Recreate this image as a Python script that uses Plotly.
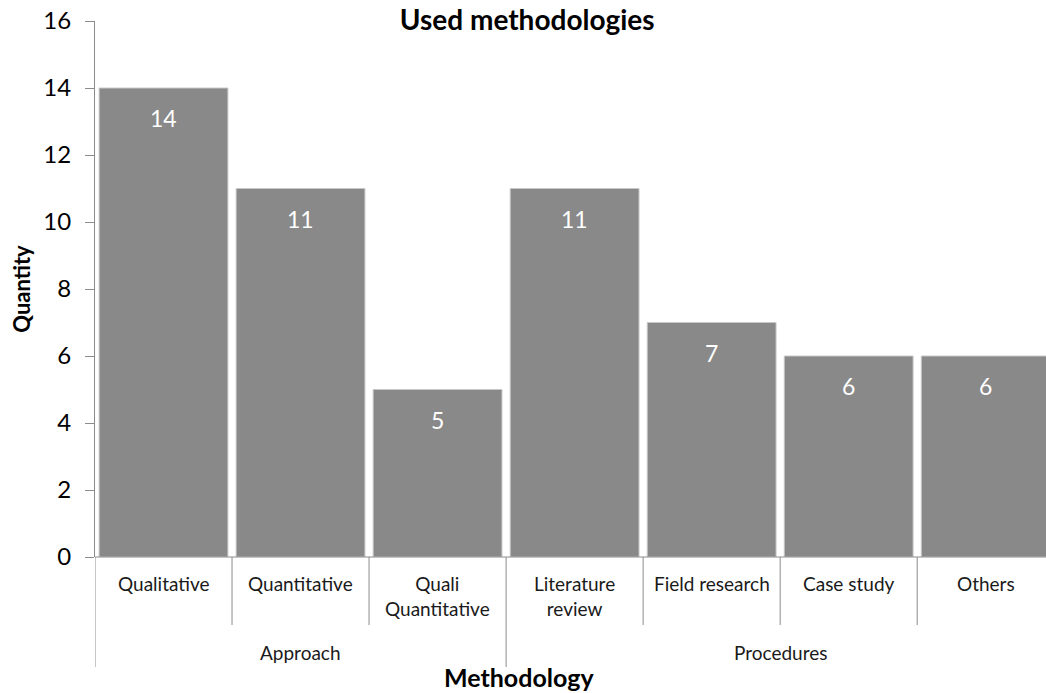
import plotly.graph_objects as go

# Methodology categories, grouped into two families
categories = ["Qualitative", "Quantitative", "Quali<br>Quantitative",
              "Literature<br>review", "Field research", "Case study", "Others"]
quantities = [14, 11, 5, 11, 7, 6, 6]
groups = ["Approach", "Procedures"]
group_sizes = [3, 4]
y_ticks = [0, 2, 4, 6, 8, 10, 12, 14, 16]

FONT = "Lato, 'Open Sans', sans-serif"
AXIS_GRAY = "#8c8c8c"
BAR_GRAY = "#898989"

x_idx = list(range(len(categories)))
# the last category runs slightly past the right edge of the figure
X_MIN, X_MAX = -0.5, 6.44

fig = go.Figure()
fig.add_trace(go.Bar(
    x=x_idx, y=quantities,
    marker=dict(color=BAR_GRAY, line=dict(color="#c8c8c8", width=1)),
    hoverinfo="skip",
))

annotations = []
# value labels inside the top of each bar
for i, v in enumerate(quantities):
    annotations.append(dict(
        x=i, y=v, xref="x", yref="y", text=str(v), showarrow=False,
        yanchor="top", yshift=-14,
        font=dict(family=FONT, size=23, color="white"),
    ))

# inner category labels
for i, c in enumerate(categories):
    annotations.append(dict(
        x=i, y=0, xref="x", yref="paper", text=c, showarrow=False,
        yanchor="top", yshift=-13, align="center",
        font=dict(family=FONT, size=19, color="#1a1a1a"),
    ))

shapes = []
# x axis baseline
shapes.append(dict(type="line", xref="x", yref="paper", x0=X_MIN, x1=X_MAX,
                   y0=0, y1=0, line=dict(color=AXIS_GRAY, width=1)))

# dividers between categories and group labels
start = 0
group_bounds = [-0.5]
for g, n in zip(groups, group_sizes):
    center = start + (n - 1) / 2
    annotations.append(dict(
        x=center, y=0, xref="x", yref="paper", text=g, showarrow=False,
        yanchor="top", yshift=-82,
        font=dict(family=FONT, size=19, color="#1a1a1a"),
    ))
    start += n
    group_bounds.append(start - 0.5)

for k in range(len(categories)):
    xb = k - 0.5
    if xb in group_bounds:
        continue
    shapes.append(dict(type="line", xref="x", yref="paper", x0=xb, x1=xb,
                       y0=0, y1=-68 / 536, line=dict(color=AXIS_GRAY, width=1)))
for xb in group_bounds[:-1]:
    shapes.append(dict(type="line", xref="x", yref="paper", x0=xb, x1=xb,
                       y0=0, y1=-110 / 536, line=dict(color=AXIS_GRAY, width=1)))

# x axis title
annotations.append(dict(
    x=0.446, y=0, xref="paper", yref="paper", text="<b>Methodology</b>",
    showarrow=False, yanchor="middle", yshift=-120,
    font=dict(family=FONT, size=25, color="black"),
))

fig.update_layout(
    width=1046, height=693,
    margin=dict(l=95, r=0, t=21, b=136),
    paper_bgcolor="white", plot_bgcolor="white",
    showlegend=False,
    bargap=0.06,
    title=dict(text="<b>Used methodologies</b>", x=0.504, xanchor="center",
               y=0.971, yanchor="middle",
               font=dict(family=FONT, size=28, color="black")),
    xaxis=dict(range=[X_MIN, X_MAX], showticklabels=False, showgrid=False,
               zeroline=False, showline=False, ticks=""),
    yaxis=dict(range=[0, 16], tickvals=y_ticks, showgrid=False, zeroline=False,
               showline=True, linecolor=AXIS_GRAY, linewidth=1,
               ticks="outside", ticklen=9, tickcolor=AXIS_GRAY,
               ticklabelstandoff=9,
               tickfont=dict(family=FONT, size=24, color="black"),
               title=dict(text="<b>Quantity</b>", standoff=6,
                          font=dict(family=FONT, size=22, color="black"))),
    annotations=annotations,
    shapes=shapes,
)

fig.write_html("out.html")
